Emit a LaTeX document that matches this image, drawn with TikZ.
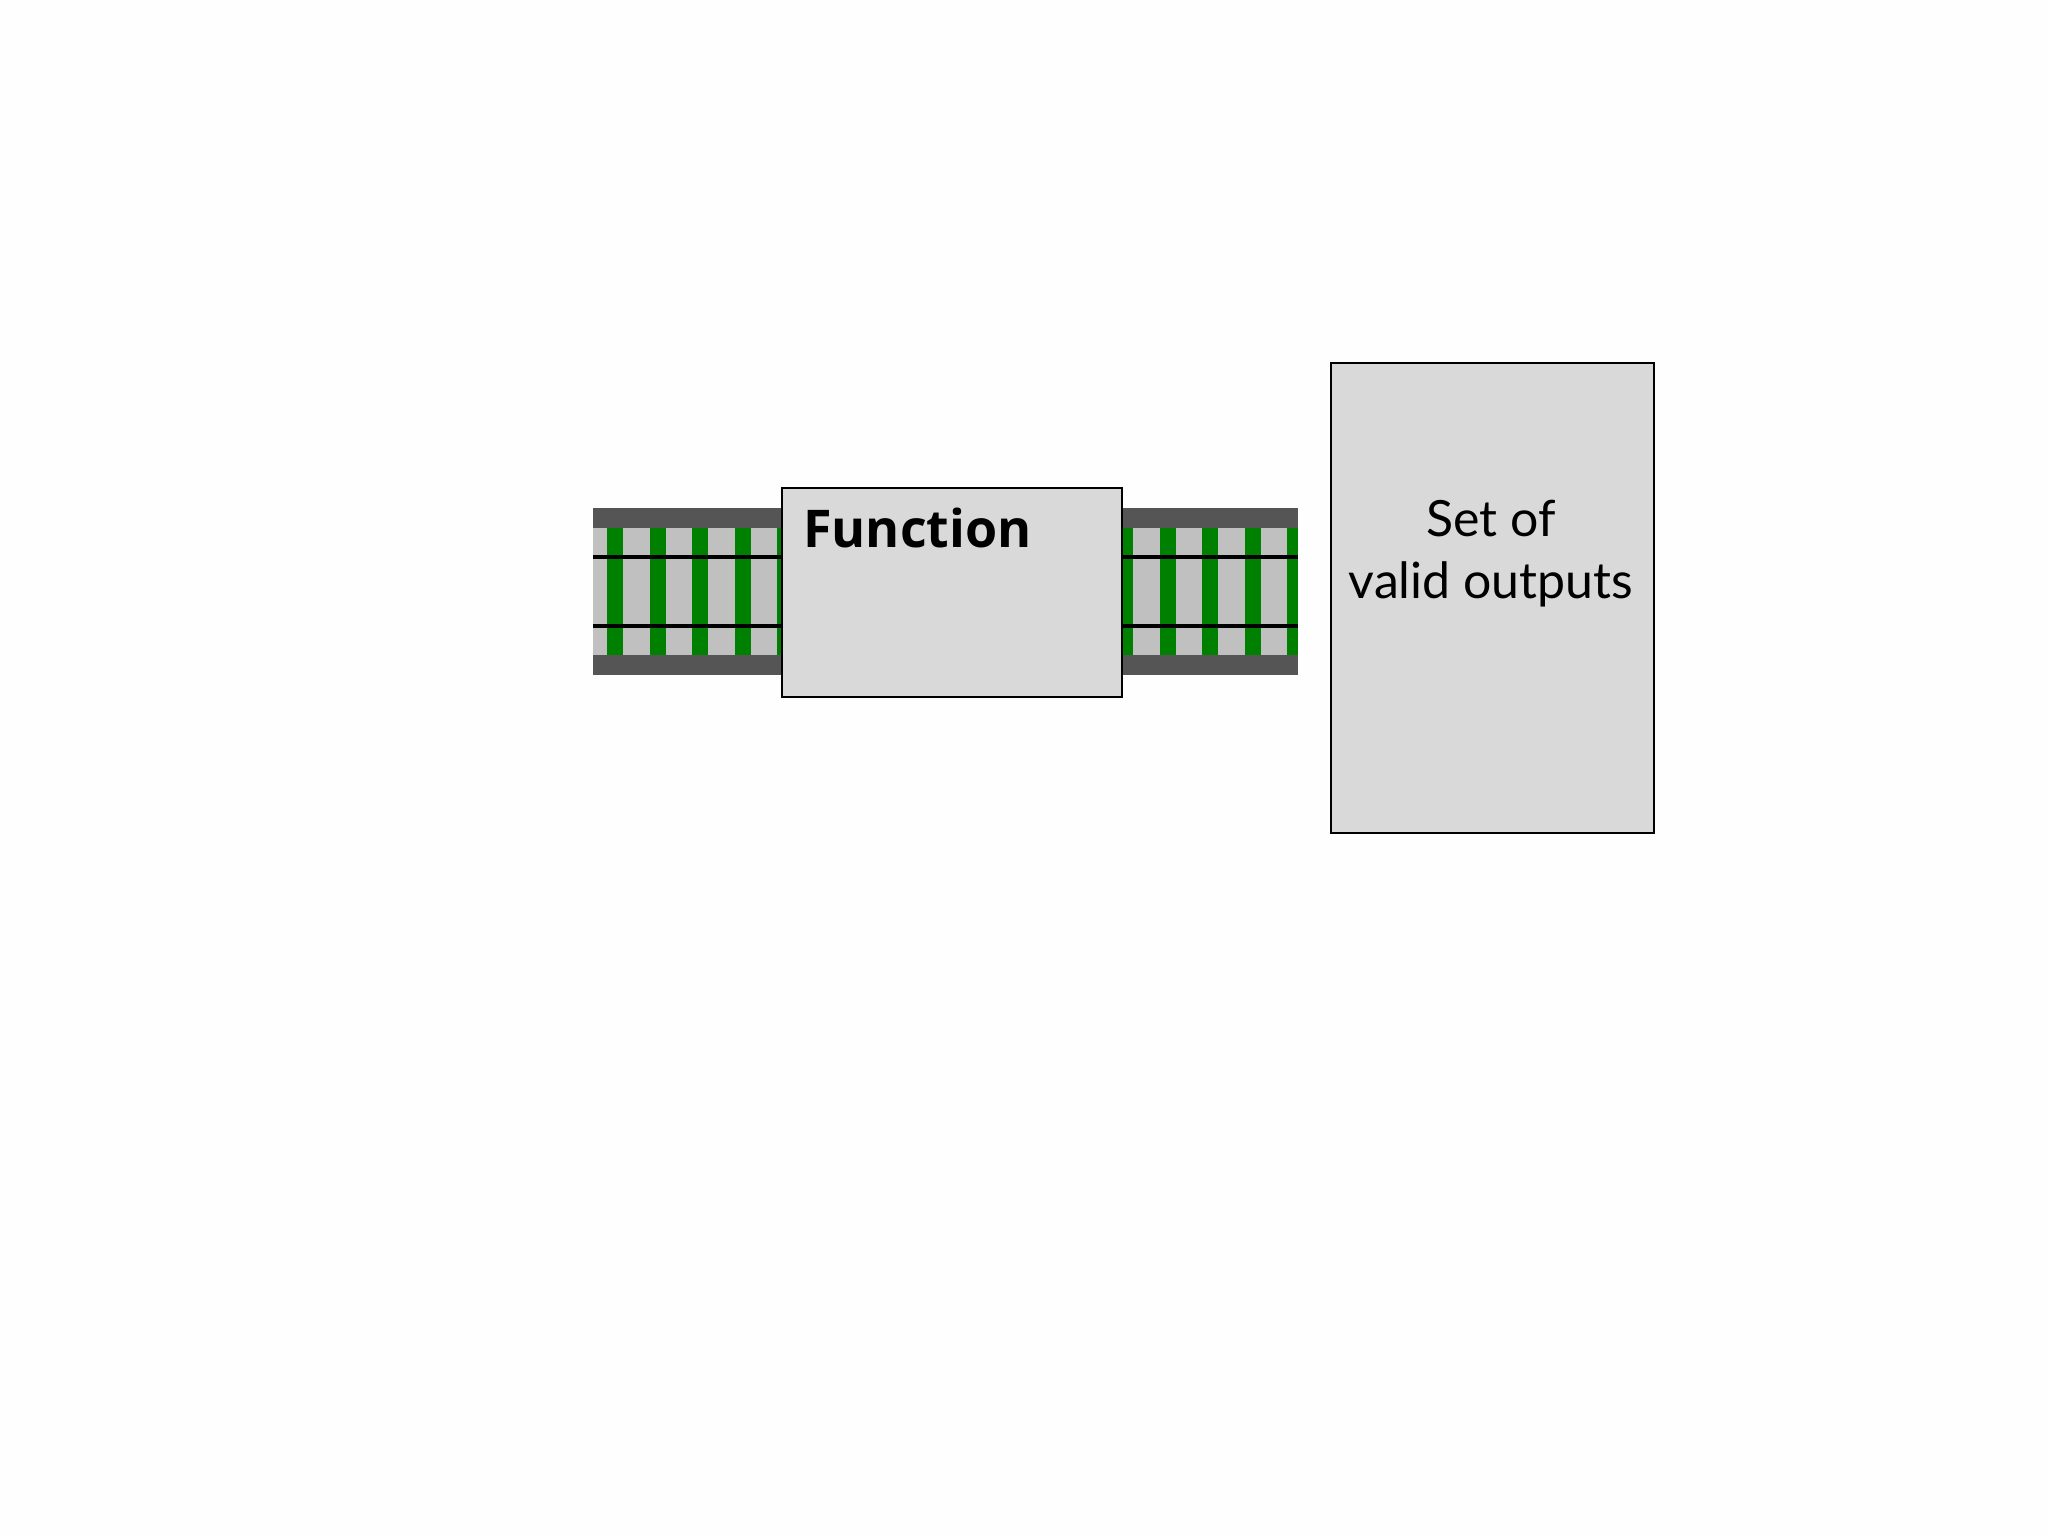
\documentclass[tikz,border=0pt]{standalone}
\usepackage{fontspec}
\setmainfont{Open Sans}
\newfontfamily\gill{Lato}
\definecolor{boxgray}{RGB}{217,217,217}
\definecolor{tiegray}{RGB}{192,192,192}
\definecolor{railband}{RGB}{85,85,85}
\definecolor{tiegreen}{RGB}{0,128,0}
\begin{document}
\begin{tikzpicture}[x=1pt,y=-1pt,
  bx/.style={draw=black,line width=2pt,fill=boxgray}]
\useasboundingbox (0,0) rectangle (2048,1536);
\fill[white!99!gray] (0,0) rectangle (2048,1536);
% tracks
\foreach \a/\b in {593/781,1121/1298}{
  \fill[tiegray] (\a,528) rectangle (\b,655);
  \fill[railband] (\a,508) rectangle (\b,528);
  \fill[railband] (\a,655) rectangle (\b,675);
}
\foreach \t in {607,649.5,692,734.5,777}{
  \fill[tiegreen] (\t,528) rectangle ({min(\t+16,781)},655);}
\foreach \t in {1117,1159.5,1202,1244.5,1287}{
  \fill[tiegreen] ({max(\t,1121)},528) rectangle ({min(\t+16,1298)},655);}
\foreach \a/\b in {593/781,1121/1298}{
  \draw[black,line width=4pt] (\a,557) -- (\b,557);
  \draw[black,line width=4pt] (\a,626) -- (\b,626);
}
\node[bx,minimum width=340,minimum height=209,anchor=north west] (fn) at (781,487) {};
\node[font=\bfseries\fontsize{52}{60}\selectfont,anchor=north west,inner sep=0] (fnl) at (803,508) {Function};
\node[bx,minimum width=323,minimum height=470,anchor=north west] (set) at (1330,362) {};
\node[font=\gill\fontsize{50}{62}\selectfont,align=center,anchor=north,inner sep=0] (setl) at (1491,500) {Set of\\valid outputs};
\end{tikzpicture}
\end{document}
